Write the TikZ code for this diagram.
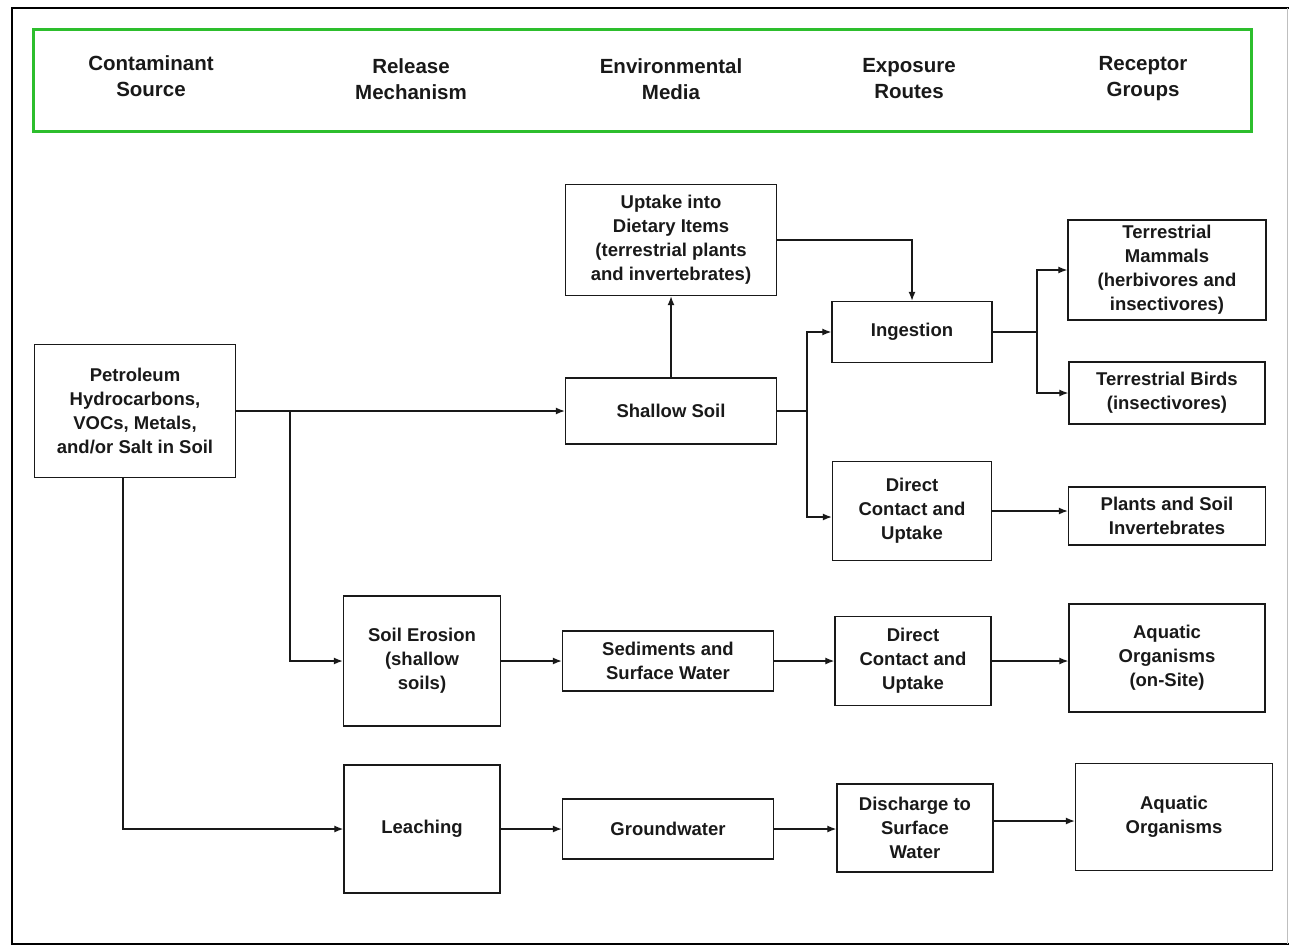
\documentclass[tikz,border=0pt]{standalone}
\usepackage{fontspec}
\setmainfont{Liberation Sans}
\usetikzlibrary{arrows.meta}
\definecolor{hdrgreen}{RGB}{45,190,45}
\definecolor{ink}{RGB}{25,25,25}
\tikzset{
  box/.style={draw=ink, line width=1.4pt, align=center, inner sep=0pt, text=ink,
     font=\fontsize{18.5}{24}\selectfont\bfseries},
  hdr/.style={align=center, inner sep=0pt, text=ink, font=\fontsize{20.5}{26}\selectfont\bfseries},
  arr/.style={draw=ink, line width=1.3pt, -{Latex[length=9pt,width=7pt]}},
  ln/.style={draw=ink, line width=1.3pt},
}
\begin{document}
\begin{tikzpicture}[x=1pt,y=-1pt]
\useasboundingbox (0,0) rectangle (1289,947);
% outer frame
\draw[line width=2.2pt, black] (1289,8) -- (12,8) -- (12,944) -- (1289,944);
\draw[line width=1pt, black!25] (1287,8) -- (1287,944);
% header
\draw[hdrgreen, line width=3pt] (33,30) rectangle (1251,131);
\node[hdr] (h1) at (151,76) {Contaminant\\Source};
\node[hdr] (h2) at (411,79) {Release\\Mechanism};
\node[hdr] (h3) at (671,79) {Environmental\\Media};
\node[hdr] (h4) at (909,79) {Exposure\\Routes};
\node[hdr] (h5) at (1143,79) {Receptor\\Groups};
% nodes
\node[box, minimum width=201pt, minimum height=133pt] (src) at (135,411) {Petroleum\\Hydrocarbons,\\VOCs, Metals,\\and/or Salt in Soil};
\node[box, minimum width=211pt, minimum height=111pt] (up) at (671,240) {Uptake into\\Dietary Items\\(terrestrial plants\\and invertebrates)};
\node[box, minimum width=211pt, minimum height=66pt] (ss) at (671,411) {Shallow Soil};
\node[box, minimum width=160pt, minimum height=61pt] (ing) at (912,332) {Ingestion};
\node[box, minimum width=159pt, minimum height=99pt] (dc1) at (912,511) {Direct\\Contact and\\Uptake};
\node[box, minimum width=198pt, minimum height=100pt] (mam) at (1167,270) {Terrestrial\\Mammals\\(herbivores and\\insectivores)};
\node[box, minimum width=196pt, minimum height=62pt] (bird) at (1167,393) {Terrestrial Birds\\(insectivores)};
\node[box, minimum width=197pt, minimum height=58pt] (pl) at (1167,516) {Plants and Soil\\Invertebrates};
\node[box, minimum width=157pt, minimum height=130pt] (se) at (422,661) {Soil Erosion\\(shallow\\soils)};
\node[box, minimum width=211pt, minimum height=60pt] (sed) at (668,661) {Sediments and\\Surface Water};
\node[box, minimum width=156pt, minimum height=89pt] (dc2) at (913,661) {Direct\\Contact and\\Uptake};
\node[box, minimum width=196pt, minimum height=108pt] (aqs) at (1167,658) {Aquatic\\Organisms\\(on-Site)};
\node[box, minimum width=156pt, minimum height=128pt] (le) at (422,829) {Leaching};
\node[box, minimum width=211pt, minimum height=60pt] (gw) at (668,829) {Groundwater};
\node[box, minimum width=156pt, minimum height=88pt] (dis) at (915,828) {Discharge to\\Surface\\Water};
\node[box, minimum width=197pt, minimum height=107pt] (aq) at (1174,817) {Aquatic\\Organisms};
% junctions
\coordinate (j1) at (290,411);
\coordinate (j2) at (807,411);
\coordinate (j3) at (1037,332);
% connectors
\draw[arr] (src.east) -- (ss.west);
\draw[arr] (j1) |- (se.west);
\draw[arr] ([xshift=-12pt]src.south) |- (le.west);
\draw[arr] (ss.north) -- (up.south);
\draw[arr] (up.east) -| (ing.north);
\draw[ln] (ss.east) -- (j2);
\draw[arr] (j2) |- (ing.west);
\draw[arr] (j2) |- ([yshift=-6pt]dc1.west);
\draw[ln] (ing.east) -- (j3);
\draw[arr] (j3) |- (mam.west);
\draw[arr] (j3) |- (bird.west);
\draw[arr] (dc1.east) -- (dc1.east -| pl.west);
\draw[arr] (se.east) -- (sed.west);
\draw[arr] (sed.east) -- (dc2.west);
\draw[arr] (dc2.east) -- (dc2.east -| aqs.west);
\draw[arr] (le.east) -- (gw.west);
\draw[arr] (gw.east) -- (gw.east -| dis.west);
\draw[arr] ([yshift=7pt]dis.east) -- ([yshift=7pt]dis.east -| aq.west);
\end{tikzpicture}
\end{document}
